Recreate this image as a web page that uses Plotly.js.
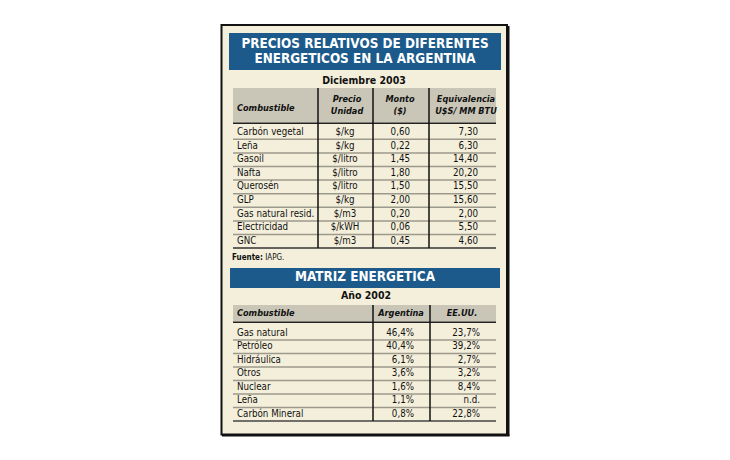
<!DOCTYPE html>
<html>
<head>
<meta charset="utf-8">
<script src="https://cdn.plot.ly/plotly-3.0.1.min.js"></script>
<style>
  html, body { margin: 0; padding: 0; background: #fff; }
  #chart { width: 730px; height: 460px; }
</style>
</head>
<body>
<div id="chart"></div>
<script>
// tabla 1: precios relativos, diciembre 2003
const combustibles = ['Carbón vegetal', 'Leña', 'Gasoil', 'Nafta', 'Querosén', 'GLP', 'Gas natural resid.', 'Electricidad', 'GNC'];
const unidades = ['$/kg', '$/kg', '$/litro', '$/litro', '$/litro', '$/kg', '$/m3', '$/kWH', '$/m3'];
const montos = [0.60, 0.22, 1.45, 1.80, 1.50, 2.00, 0.20, 0.06, 0.45];
const equivalencias = [7.30, 6.30, 14.40, 20.20, 15.50, 15.60, 2.00, 5.50, 4.60];

// tabla 2: matriz energetica, año 2002
const fuentes = ['Gas natural', 'Petróleo', 'Hidráulica', 'Otros', 'Nuclear', 'Leña', 'Carbón Mineral'];
const argentina = [46.4, 40.4, 6.1, 3.6, 1.6, 1.1, 0.8];
const eeuu = [23.7, 39.2, 2.7, 3.2, 8.4, null, 22.8];

const BODY = 'DejaVu Sans Condensed, DejaVu Sans, sans-serif';
const HEAD = 'DejaVu Sans Condensed, DejaVu Sans, sans-serif';
const BLUE = '#1b5a8b';
const CREAM = '#f4efdb';
const GRAY = '#c9c6b7';

const num = (v, d) => v == null ? 'n.d.' : v.toFixed(d).replace('.', ',');

// filas (pixel y de cada renglon)
const rows1 = combustibles.map((_, i) => 132.5 + i * 13.6);
const rows2 = fuentes.map((_, i) => 333.2 + i * 13.5);

function col(x, ys, text, pos, font) {
  return {
    type: 'scatter', mode: 'text', x: ys.map(() => x), y: ys, text: text,
    textposition: pos, textfont: font || { family: BODY, size: 9.7, color: '#111' },
    hoverinfo: 'skip', showlegend: false, cliponaxis: false
  };
}
const headFont = (size, color, extra) => Object.assign({ family: HEAD, size: size, color: color || '#111', weight: 'bold' }, extra || {});
const colHead = headFont(9.1, '#111', { style: 'italic' });

const data = [
  // titulos
  col(365, [45, 59.5], ['PRECIOS RELATIVOS DE DIFERENTES', 'ENERGETICOS EN LA ARGENTINA'], 'middle center', headFont(13.4, '#fff')),
  col(364, [81], ['Diciembre 2003'], 'middle center', headFont(10.5)),
  col(237, [109], ['Combustible'], 'middle right', colHead),
  col(347, [100, 112], ['Precio', 'Unidad'], 'middle center', colHead),
  col(400, [100, 112], ['Monto', '($)'], 'middle center', colHead),
  col(466, [100, 112], ['Equivalencia', 'U$S/ MM BTU'], 'middle center', colHead),
  // tabla 1
  col(237, rows1, combustibles, 'middle right'),
  col(345, rows1, unidades, 'middle center'),
  col(410, rows1, montos.map(v => num(v, 2)), 'middle left'),
  col(478, rows1, equivalencias.map(v => num(v, 2)), 'middle left'),
  col(232, [258], ['<b>Fuente:</b> IAPG.'], 'middle right', { family: BODY, size: 8, color: '#111' }),
  // tabla 2
  col(365, [278], ['MATRIZ ENERGETICA'], 'middle center', headFont(13.4, '#fff')),
  col(366, [296], ['Año 2002'], 'middle center', headFont(10.5)),
  col(237, [314], ['Combustible'], 'middle right', colHead),
  col(401, [314], ['Argentina'], 'middle center', colHead),
  col(462, [314], ['EE.UU.'], 'middle center', colHead),
  col(237, rows2, fuentes, 'middle right'),
  col(414, rows2, argentina.map(v => num(v, 1) + '%'), 'middle left'),
  col(480, rows2, eeuu.map(v => v == null ? 'n.d.' : num(v, 1) + '%'), 'middle left')
];

const shapes = [];
const rect = (x0, y0, x1, y1, fill) => shapes.push({ type: 'rect', layer: 'below', x0, y0, x1, y1, fillcolor: fill, line: { width: 0 } });
const line = (x0, y0, x1, y1, color, w) => shapes.push({ type: 'line', layer: 'below', x0, y0, x1, y1, line: { color: color, width: w } });

// recuadro
shapes.push({ type: 'rect', layer: 'below', x0: 221.5, y0: 25, x1: 507, y1: 434.5, fillcolor: CREAM, line: { color: '#111', width: 2 } });
line(508.5, 26, 508.5, 436, '#111', 2);
line(222, 435.5, 509.5, 435.5, '#111', 2);

// bandas azules
rect(229, 33, 501, 70, BLUE);
rect(230, 268, 500, 288, BLUE);

// encabezados grises
rect(233, 88, 496, 122.5, GRAY);
rect(233, 305, 496, 321.5, GRAY);
line(233, 123.3, 496, 123.3, '#222', 1.5);
line(233, 322.3, 496, 322.3, '#222', 1.5);

// lineas de filas
rows1.forEach((y, i) => line(233, y + 6.8, 496, y + 6.8, i === rows1.length - 1 ? '#333' : '#9c998d', 1.5));
rows2.forEach((y, i) => line(233, y + 6.7, 496, y + 6.7, i === rows2.length - 1 ? '#444' : '#9c998d', 1.5));

// separadores de columnas
[318, 373, 429].forEach(x => line(x, 88, x, 248, '#111', 1.5));
[373, 430].forEach(x => line(x, 305, x, 421, '#111', 1.5));

const layout = {
  width: 730, height: 460,
  margin: { l: 0, r: 0, t: 0, b: 0 },
  paper_bgcolor: '#fff', plot_bgcolor: '#fff',
  xaxis: { range: [0, 730], visible: false, fixedrange: true },
  yaxis: { range: [460, 0], visible: false, fixedrange: true },
  shapes: shapes,
  showlegend: false
};

Plotly.newPlot('chart', data, layout, { staticPlot: true, displayModeBar: false });
</script>
</body>
</html>
